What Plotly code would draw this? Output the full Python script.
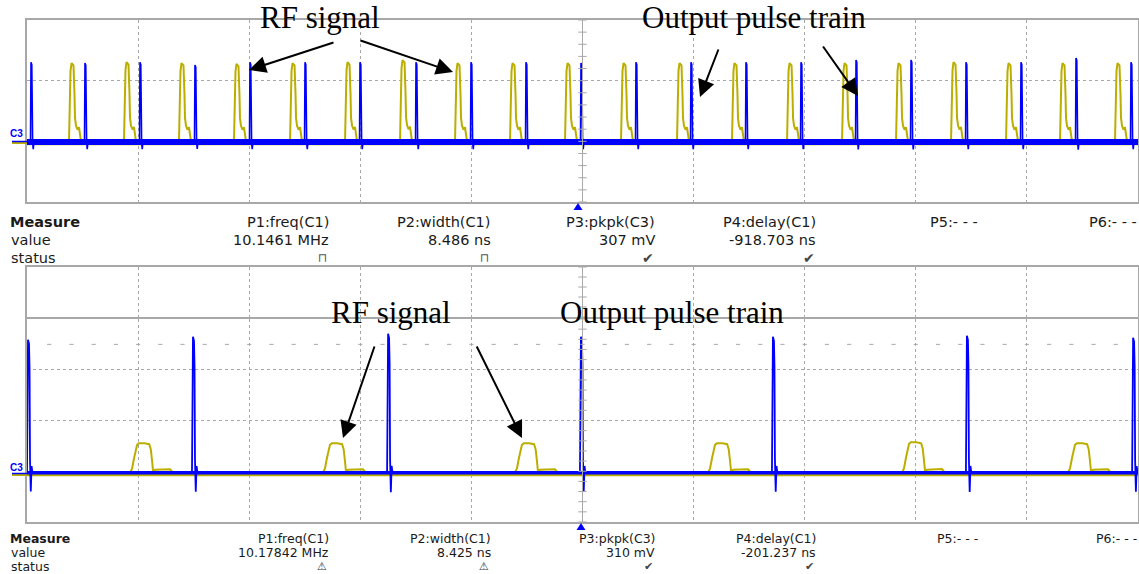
import plotly.graph_objects as go

W, H = 1139, 574

# ---------------- data ----------------
# top capture: 200 ns/div, 200 mV/div
top_blue_t_ns = [7.2, 104.4, 203.4, 302.4, 401.4, 500.5, 599.5, 700.3, 799.3, 898.3, 997.3,
                 1096.3, 1195.3, 1294.3, 1393.4, 1492.4, 1591.4, 1690.4, 1789.4, 1888.4, 1987.4]
top_blue_mv = [261, 258, 261, 252, 261, 261, 261, 261, 261, 261, 258,
               261, 261, 261, 261, 268, 268, 261, 261, 275, 261]
top_yel_t_ns = [75.6, 174.6, 273.6, 372.6, 473.5, 572.5, 671.5, 770.5, 869.5, 968.5,
                1069.3, 1170.1, 1269.1, 1368.2, 1467.2, 1564.4, 1663.4, 1762.4, 1859.6, 1958.6]
top_yel_mv = [258, 261, 258, 255, 258, 261, 268, 258, 258, 258,
              258, 258, 258, 258, 258, 258, 261, 258, 258, 258]

# bottom capture: 50 ns/div, 100 mV/div
bot_blue_t_ns = [0.45, 74.7, 162.5, 249.3, 335.7, 423.0, 497.8]
bot_blue_mv = [262, 268, 274, 268, 268, 270, 266]
bot_yel_t_ns = [46.4, 133.2, 219.6, 306.5, 393.8, 468.5]
bot_yel_mv = [58, 58, 58, 58, 60, 58]

# pulse shapes: (time offset in ns, fraction of height)
top_blue_shape = [(-0.9, 0), (0, 1.0), (1.4, 0.97), (2.2, 0.2), (2.9, 0), (4.0, -0.1), (5.4, 0)]
top_yel_shape = [(0, 0), (0.9, 0.4), (1.8, 0.55), (2.7, 0.9), (4.5, 1.0), (8.1, 0.97),
                 (9.9, 0.6), (10.8, 0.3), (12.6, 0.2), (15.3, 0.15), (18.0, 0.18), (19.8, 0.05), (21.6, 0)]
bot_blue_shape = [(-0.45, 0), (-0.22, 0.47), (0, 1.0), (0.45, 0.97), (0.7, 0.78), (0.9, 0.1),
                  (1.25, -0.14), (1.6, 0.05), (2.0, 0)]
bot_yel_shape = [(0, 0), (0.9, 0.15), (1.8, 0.5), (2.5, 0.8), (3.15, 0.95), (4.0, 1.0), (6.5, 1.0),
                 (8.6, 0.97), (9.3, 0.8), (9.9, 0.4), (10.35, 0.05), (11.25, 0.1), (18.0, 0.12), (19.35, 0)]

top_measure = [("P1:freq(C1)", "10.1461 MHz", "pulse"), ("P2:width(C1)", "8.486 ns", "pulse"),
               ("P3:pkpk(C3)", "307 mV", "ok"), ("P4:delay(C1)", "-918.703 ns", "ok"),
               ("P5:- - -", "", ""), ("P6:- - -", "", "")]
bot_measure = [("P1:freq(C1)", "10.17842 MHz", "warn"), ("P2:width(C1)", "8.425 ns", "warn"),
               ("P3:pkpk(C3)", "310 mV", "ok"), ("P4:delay(C1)", "-201.237 ns", "ok"),
               ("P5:- - -", "", ""), ("P6:- - -", "", "")]

BLUE = "#0000FF"
YEL = "#BBAE00"
GRID = "#A8A8A8"


def px(x):
    return x / W


def py(y):
    return 1 - y / H


def build(times, heights, shape):
    xs, ys = [], []
    for t0, h in zip(times, heights):
        for dt, f in shape:
            xs.append(t0 + dt)
            ys.append(h * f)
        xs.append(None)
        ys.append(None)
    return xs, ys


fig = go.Figure()

# ---------- top panel ----------
TOP_X = [0, 2000]
TOP_Y = [-200, 400]
fig.add_trace(go.Scatter(x=TOP_X, y=[-6, -6], mode="lines", line=dict(color=YEL, width=4),
                         xaxis="x", yaxis="y", hoverinfo="skip"))
xs, ys = build(top_yel_t_ns, top_yel_mv, top_yel_shape)
fig.add_trace(go.Scatter(x=xs, y=ys, mode="lines", line=dict(color=YEL, width=2),
                         xaxis="x", yaxis="y", hoverinfo="skip"))
fig.add_trace(go.Scatter(x=TOP_X, y=[-2, -2], mode="lines", line=dict(color=BLUE, width=6),
                         xaxis="x", yaxis="y", hoverinfo="skip"))
xs, ys = build(top_blue_t_ns, top_blue_mv, top_blue_shape)
fig.add_trace(go.Scatter(x=xs, y=ys, mode="lines", line=dict(color=BLUE, width=1.6),
                         xaxis="x", yaxis="y", hoverinfo="skip"))
# centre graticule axis with minor ticks
fig.add_trace(go.Scatter(x=[1000] * 16, y=[-200 + 40 * i for i in range(16)], mode="lines+markers",
                         line=dict(color=GRID, width=1),
                         marker=dict(symbol="line-ew", size=6, line=dict(color=GRID, width=1)),
                         xaxis="x", yaxis="y", hoverinfo="skip"))

# ---------- strip between panels ----------
fig.add_trace(go.Scatter(x=[250] * 6, y=[0.1 * i * 2 for i in range(6)], mode="lines+markers",
                         line=dict(color=GRID, width=1),
                         marker=dict(symbol="line-ew", size=6, line=dict(color=GRID, width=1)),
                         xaxis="x3", yaxis="y3", hoverinfo="skip"))

# ---------- bottom panel ----------
BOT_X = [0, 500]
fig.add_trace(go.Scatter(x=BOT_X, y=[-7, -7], mode="lines", line=dict(color=YEL, width=3),
                         xaxis="x2", yaxis="y2", hoverinfo="skip"))
xs, ys = build(bot_yel_t_ns, bot_yel_mv, bot_yel_shape)
fig.add_trace(go.Scatter(x=xs, y=[None if v is None else v - 3 for v in ys], mode="lines",
                         line=dict(color=YEL, width=2), xaxis="x2", yaxis="y2", hoverinfo="skip"))
fig.add_trace(go.Scatter(x=BOT_X, y=[-3, -3], mode="lines", line=dict(color=BLUE, width=3.5),
                         xaxis="x2", yaxis="y2", hoverinfo="skip"))
xs, ys = build(bot_blue_t_ns, bot_blue_mv, bot_blue_shape)
fig.add_trace(go.Scatter(x=xs, y=[None if v is None else v - 3 for v in ys], mode="lines",
                         line=dict(color=BLUE, width=1.8), xaxis="x2", yaxis="y2", hoverinfo="skip"))
fig.add_trace(go.Scatter(x=[250] * 21, y=[-100 + 20 * i for i in range(21)], mode="lines+markers",
                         line=dict(color=GRID, width=1),
                         marker=dict(symbol="line-ew", size=6, line=dict(color=GRID, width=1)),
                         xaxis="x2", yaxis="y2", hoverinfo="skip"))
fig.add_trace(go.Scatter(x=[10 * i for i in range(1, 50)], y=[250] * 49, mode="markers",
                         marker=dict(symbol="line-ew", size=3, line=dict(color=GRID, width=1)),
                         xaxis="x2", yaxis="y2", hoverinfo="skip"))

axis_common = dict(showline=True, mirror=True, linecolor=GRID, linewidth=1.5,
                   showgrid=True, gridcolor=GRID, griddash="dot", gridwidth=1,
                   zeroline=False, showticklabels=False, ticks="", fixedrange=True)
xdom = [px(27), px(1138)]

fig.update_layout(
    width=W, height=H, margin=dict(l=0, r=0, t=0, b=0),
    paper_bgcolor="white", plot_bgcolor="white", showlegend=False,
    xaxis=dict(axis_common, domain=xdom, range=TOP_X, tick0=0, dtick=200, anchor="y"),
    yaxis=dict(axis_common, domain=[py(202), py(20)], range=TOP_Y, tick0=0, dtick=200, anchor="x"),
    xaxis2=dict(axis_common, domain=xdom, range=BOT_X, tick0=0, dtick=50, anchor="y2"),
    yaxis2=dict(axis_common, domain=[py(522), py(319)], range=[-100, 300], tick0=0, dtick=100, anchor="x2"),
    xaxis3=dict(axis_common, domain=xdom, range=BOT_X, tick0=0, dtick=50, anchor="y3"),
    yaxis3=dict(axis_common, domain=[py(317), py(267)], range=[0, 1], showgrid=False, anchor="x3"),
)

ann = []
shapes = []

# C3 labels and markers
for ylab, yline in [(133, 142), (467, 474)]:
    ann.append(dict(x=px(16), y=py(ylab), xref="paper", yref="paper", text="<b>C3</b>", showarrow=False,
                    font=dict(family="Liberation Sans", size=10, color=BLUE), xanchor="center", yanchor="middle"))
    shapes.append(dict(type="line", xref="paper", yref="paper", x0=px(12), x1=px(27), y0=py(yline + 1),
                       y1=py(yline + 1), line=dict(color=YEL, width=2)))
    shapes.append(dict(type="line", xref="paper", yref="paper", x0=px(12), x1=px(27), y0=py(yline - 0.5),
                       y1=py(yline - 0.5), line=dict(color=BLUE, width=1.5)))

# trigger triangles
for cx, ty in [(578, 203), (581, 523)]:
    shapes.append(dict(type="path", xref="paper", yref="paper",
                       path=f"M {px(cx)},{py(ty)} L {px(cx-4.5)},{py(ty+7)} L {px(cx+4.5)},{py(ty+7)} Z",
                       fillcolor=BLUE, line=dict(color=BLUE, width=0)))

# measurement tables
col_right = [331, 493, 657, 818, 980, 1139]
for rows_y, meas, fsz, isz in [((222, 240, 258), top_measure, 14.5, 14),
                               ((538.5, 552.5, 566), bot_measure, 12.5, 11)]:
    icons = {"pulse": ("⊓", "#555555", isz - 2), "ok": ("✔", "#444444", isz), "warn": ("⚠", "#333333", isz)}
    fnt = dict(family="DejaVu Sans", size=fsz, color="#1a1a1a")
    ann.append(dict(x=px(8), y=py(rows_y[0]), xref="paper", yref="paper", text="<b>Measure</b>",
                    showarrow=False, font=fnt, xanchor="left", yanchor="middle"))
    ann.append(dict(x=px(9), y=py(rows_y[1]), xref="paper", yref="paper", text="value",
                    showarrow=False, font=fnt, xanchor="left", yanchor="middle"))
    ann.append(dict(x=px(9), y=py(rows_y[2]), xref="paper", yref="paper", text="status",
                    showarrow=False, font=fnt, xanchor="left", yanchor="middle"))
    for (name, val, st), xr in zip(meas, col_right):
        ann.append(dict(x=px(xr), y=py(rows_y[0]), xref="paper", yref="paper", text=name,
                        showarrow=False, font=fnt, xanchor="right", yanchor="middle"))
        if val:
            ann.append(dict(x=px(xr), y=py(rows_y[1]), xref="paper", yref="paper", text=val,
                            showarrow=False, font=fnt, xanchor="right", yanchor="middle"))
        if st:
            ch, col, sz = icons[st]
            ann.append(dict(x=px(xr - 9), y=py(rows_y[2]), xref="paper", yref="paper", text=ch,
                            showarrow=False, font=dict(family="DejaVu Sans", size=sz, color=col),
                            xanchor="center", yanchor="middle"))

# callout labels
serif = dict(family="Liberation Serif", size=31, color="black")
for label, cx, cy in [("RF signal", 320, 18), ("Output pulse train", 754, 18),
                      ("RF signal", 391, 312), ("Output pulse train", 672, 312)]:
    ann.append(dict(x=px(cx), y=py(cy), xref="paper", yref="paper", text=label, showarrow=False,
                    font=serif, xanchor="center", yanchor="middle"))

arrows = [((335, 42), (249, 70)), ((359, 40), (453, 72)),
          ((719, 48), (700, 97)), ((822, 45), (858, 96)),
          ((375, 345), (343, 438)), ((476, 345), (522, 438))]
for (tx, ty), (hx, hy) in arrows:
    ann.append(dict(x=px(hx), y=py(hy), xref="paper", yref="paper", text="", showarrow=True,
                    ax=tx - hx, ay=ty - hy, axref="pixel", ayref="pixel",
                    arrowhead=2, arrowsize=1.7, arrowwidth=2, arrowcolor="black", standoff=0))

fig.update_layout(annotations=ann, shapes=shapes)
fig.write_html("out.html")
